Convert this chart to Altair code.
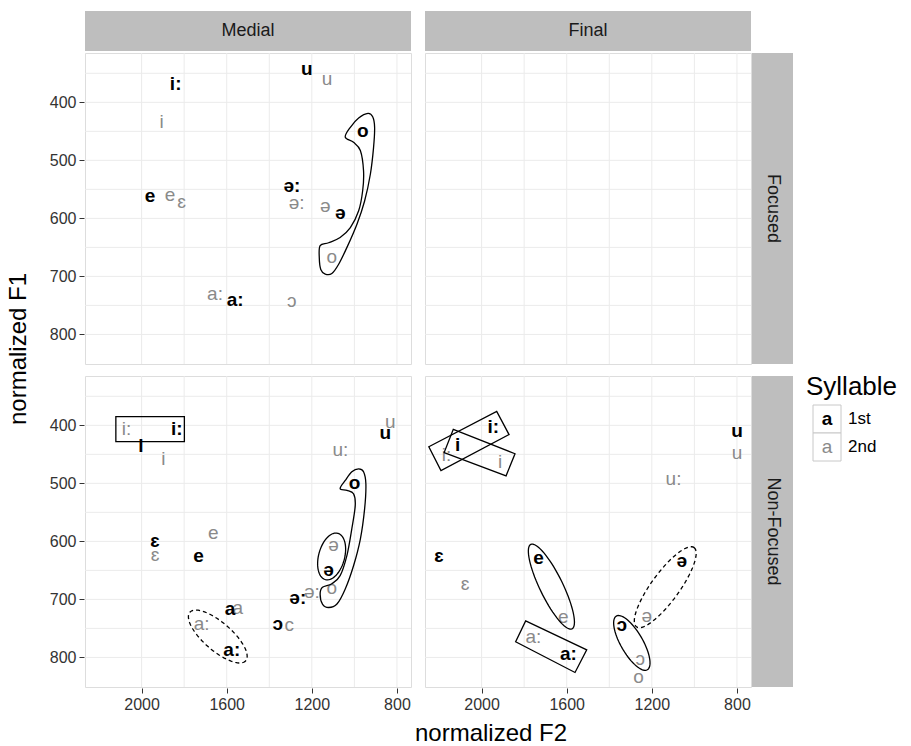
import altair as alt
import numpy as np
import pandas as pd

FONT = "Liberation Sans"
POSITIONS = ["Medial", "Final"]
FOCI = ["Focused", "Non-Focused"]

# ---------------- vowel tokens ----------------
# Medial / Focused
mf_vowel = ["i:", "u", "o", "ə:", "ə", "e", "a:",
            "i", "u", "ə:", "ə", "o", "e", "ɛ", "a:", "ɔ"]
mf_syll = ["1st"] * 7 + ["2nd"] * 9
mf_f2 = [1840, 1224, 961, 1294, 1066, 1960, 1560,
         1906, 1129, 1271, 1137, 1106, 1866, 1812, 1655, 1294]
mf_f1 = [368, 342, 449, 544, 590, 561, 740,
         434, 360, 573, 578, 666, 559, 571, 731, 742]

# Medial / Non-Focused
mn_vowel = ["i:", "i", "u", "o", "ɛ", "e", "ə", "ə:", "a", "ɔ", "a:",
            "i:", "i", "u", "u:", "ɛ", "e", "ə", "o", "ə:", "a", "c", "a:"]
mn_syll = ["1st"] * 11 + ["2nd"] * 12
mn_f2 = [1835, 2003, 855, 999, 1937, 1733, 1121, 1266, 1584, 1360, 1576,
         2071, 1898, 831, 1066, 1937, 1663, 1098, 1106, 1200, 1548, 1306, 1718]
mn_f1 = [406, 436, 414, 500, 599, 625, 650, 698, 717, 742, 788,
         406, 458, 394, 443, 624, 585, 606, 681, 688, 714, 745, 742]

# Final / Non-Focused
fn_vowel = ["i:", "i", "u", "ɛ", "e", "a:", "ə", "ɔ",
            "i:", "i", "u", "u:", "ɛ", "e", "a:", "ə", "ɔ", "o"]
fn_syll = ["1st"] * 8 + ["2nd"] * 10
fn_f2 = [1945, 2113, 800, 2200, 1733, 1592, 1059, 1341,
         2165, 1913, 800, 1098, 2078, 1616, 1757, 1224, 1255, 1263]
fn_f1 = [403, 434, 410, 626, 629, 794, 633, 745,
         452, 463, 447, 492, 673, 731, 765, 728, 803, 834]

# ---------------- annotation outlines (data units) ----------------
tl_banana_f2 = [1043, 1019, 980, 936, 914, 905, 910, 925, 952, 988, 1035, 1074, 1106,
                1137, 1158, 1165, 1161, 1121, 1067, 1019, 980, 961, 957, 972, 1004]
tl_banana_f1 = [460, 443, 427, 419, 425, 443, 478, 524, 570, 610, 650, 679, 695,
                696, 688, 668, 647, 642, 633, 616, 587, 552, 518, 483, 469]
bl_banana_f2 = [1067, 1043, 1012, 980, 957, 946, 952, 972, 1004, 1043, 1082, 1121,
                1150, 1161, 1150, 1106, 1067, 1035, 1012, 996, 1004, 1035]
bl_banana_f1 = [509, 495, 480, 475, 480, 501, 544, 596, 642, 682, 708, 714,
                708, 691, 679, 673, 659, 624, 578, 538, 518, 512]
bl_rect_f2 = [2121, 1799, 1799, 2121]
bl_rect_f1 = [385, 385, 428, 428]
br_rect1_f2 = [2248, 1929, 1871, 2191]
br_rect1_f1 = [437, 376, 416, 478]
br_rect2_f2 = [2133, 1843, 1885, 2176]
br_rect2_f1 = [407, 449, 487, 447]
br_rect3_f2 = [1793, 1506, 1561, 1840]
br_rect3_f1 = [737, 787, 826, 773]

# ellipses: position, focus, centre F2, centre F1, semi-axes (px), angle (deg), dashed
ellipses = [
    ("Medial", "Non-Focused", 1107, 626, 24, 13, -75, False),
    ("Medial", "Non-Focused", 1642, 764, 37, 14, 41, True),
    ("Final", "Non-Focused", 1672, 678, 47, 11.5, 64, False),
    ("Final", "Non-Focused", 1294, 775, 31, 11, 60, False),
    ("Final", "Non-Focused", 1137, 679, 49, 14, -54, True),
]

GRID_F2 = [800, 1000, 1200, 1400, 1600, 1800, 2000]
GRID_F1 = [350, 400, 450, 500, 550, 600, 650, 700, 750, 800]
X_TICKS = [800, 1200, 1600, 2000]
Y_TICKS = [400, 500, 600, 700, 800]
X_DOM = [734, 2266]
Y_DOM = [315, 851]
LEGEND_SYLL = ["1st", "2nd"]

W, H = 326, 311
GRAY = "#8a8a8a"
STRIP = "#bebebe"
GRIDC = "#ebebeb"
F2_PER_PX = (X_DOM[1] - X_DOM[0]) / W
F1_PER_PX = (Y_DOM[1] - Y_DOM[0]) / H

rows = []
def add(**kw):
    rows.append(kw)

for pos, foc, vs, ss, xs, ys in [
    ("Medial", "Focused", mf_vowel, mf_syll, mf_f2, mf_f1),
    ("Medial", "Non-Focused", mn_vowel, mn_syll, mn_f2, mn_f1),
    ("Final", "Non-Focused", fn_vowel, fn_syll, fn_f2, fn_f1),
]:
    for v, s, a, b in zip(vs, ss, xs, ys):
        add(kind="vowel", position=pos, focus=foc, label=v, syllable=s, f2=a, f1=b)

for pos in POSITIONS:
    for foc in FOCI:
        for g in GRID_F2:
            add(kind="gx", position=pos, focus=foc, f2=g)
        for g in GRID_F1:
            add(kind="gy", position=pos, focus=foc, f1=g)

sid = 0
def add_outline(kind, pos, foc, f2s, f1s):
    global sid
    sid += 1
    for i, (a, b) in enumerate(zip(f2s, f1s)):
        add(kind=kind, position=pos, focus=foc, sid=sid, idx=i, f2=a, f1=b)

add_outline("smooth", "Medial", "Focused", tl_banana_f2, tl_banana_f1)
add_outline("smooth", "Medial", "Non-Focused", bl_banana_f2, bl_banana_f1)
add_outline("poly", "Medial", "Non-Focused", bl_rect_f2, bl_rect_f1)
add_outline("poly", "Final", "Non-Focused", br_rect1_f2, br_rect1_f1)
add_outline("poly", "Final", "Non-Focused", br_rect2_f2, br_rect2_f1)
add_outline("poly", "Final", "Non-Focused", br_rect3_f2, br_rect3_f1)

for pos, foc, cx, cy, a, b, ang, dashed in ellipses:
    th = np.radians(ang)
    t = np.linspace(0, 2 * np.pi, 72, endpoint=False)
    dx = a * np.cos(t) * np.cos(th) - b * np.sin(t) * np.sin(th)
    dy = a * np.cos(t) * np.sin(th) + b * np.sin(t) * np.cos(th)
    add_outline("dash" if dashed else "poly", pos, foc,
                list(cx - dx * F2_PER_PX), list(cy + dy * F1_PER_PX))

for pos in POSITIONS:
    add(kind="strip_top", position=pos, focus="Focused", label=pos)
for foc in FOCI:
    add(kind="strip_right", position="Final", focus=foc, label=foc)
add(kind="legend_title", position="Final", focus="Non-Focused", label="Syllable")
for s in LEGEND_SYLL:
    add(kind="legend", position="Final", focus="Non-Focused", label=s, syllable=s)

df = pd.DataFrame(rows)

xscale = alt.Scale(domain=X_DOM, reverse=True, nice=False, zero=False)
yscale = alt.Scale(domain=Y_DOM, reverse=True, nice=False, zero=False)
axis_common = dict(grid=False, domain=False, tickSize=5, tickColor="#333333",
                   labelFontSize=16, labelFont=FONT, labelColor="#333333",
                   labelPadding=3, title=None, labelFlush=False, format="d")
xenc = alt.X("f2:Q", scale=xscale, axis=alt.Axis(values=X_TICKS, **axis_common))
yenc = alt.Y("f1:Q", scale=yscale, axis=alt.Axis(values=Y_TICKS, **axis_common))

def f(expr):
    return alt.Chart().transform_filter(expr)

layers = [
    f("datum.kind == 'gx'").mark_rule(color=GRIDC, strokeWidth=1).encode(x=xenc),
    f("datum.kind == 'gy'").mark_rule(color=GRIDC, strokeWidth=1).encode(y=yenc),
    f("datum.kind == 'vowel' && datum.syllable == '2nd'").mark_text(
        font=FONT, fontSize=19, color=GRAY, baseline="middle").encode(
        x=xenc, y=yenc, text="label:N"),
    f("datum.kind == 'vowel' && datum.syllable == '1st'").mark_text(
        font=FONT, fontSize=19, color="black", fontWeight="bold", baseline="middle").encode(
        x=xenc, y=yenc, text="label:N"),
    f("datum.kind == 'smooth'").mark_line(
        interpolate="cardinal-closed", color="black", strokeWidth=1.3).encode(
        x=xenc, y=yenc, detail="sid:N", order=alt.Order("idx:Q")),
    f("datum.kind == 'poly'").mark_line(
        interpolate="linear-closed", color="black", strokeWidth=1.3).encode(
        x=xenc, y=yenc, detail="sid:N", order=alt.Order("idx:Q")),
    f("datum.kind == 'dash'").mark_line(
        interpolate="linear-closed", color="black", strokeWidth=1.3, strokeDash=[4, 3]).encode(
        x=xenc, y=yenc, detail="sid:N", order=alt.Order("idx:Q")),
    f("datum.kind == 'strip_top'").mark_rect(color=STRIP).encode(
        x=alt.value(0), x2=alt.value(W), y=alt.value(-42), y2=alt.value(-2)),
    f("datum.kind == 'strip_top'").mark_text(
        font=FONT, fontSize=18, color="#1a1a1a", baseline="middle").encode(
        x=alt.value(W / 2), y=alt.value(-22), text="label:N"),
    f("datum.kind == 'strip_right'").mark_rect(color=STRIP).encode(
        x=alt.value(W + 1), x2=alt.value(W + 42), y=alt.value(0), y2=alt.value(H)),
    f("datum.kind == 'strip_right'").mark_text(
        font=FONT, fontSize=18, color="#1a1a1a", baseline="middle", angle=90).encode(
        x=alt.value(W + 21.5), y=alt.value(H / 2), text="label:N"),
    f("datum.kind == 'legend_title'").mark_text(
        font=FONT, fontSize=26, color="black", align="left", baseline="top").encode(
        x=alt.value(381), y=alt.value(-2), text="label:N"),
]
for i, s in enumerate(LEGEND_SYLL):
    y0 = 29 + 28 * i
    sel = f"datum.kind == 'legend' && datum.syllable == '{s}'"
    layers.append(f(sel).mark_rect(fill="white", stroke="#c8c8c8", strokeWidth=1).encode(
        x=alt.value(388), x2=alt.value(416), y=alt.value(y0), y2=alt.value(y0 + 28)))
    layers.append(f(sel).mark_text(
        font=FONT, fontSize=19, color="black" if s == "1st" else GRAY,
        fontWeight="bold" if s == "1st" else "normal", baseline="middle").encode(
        x=alt.value(402), y=alt.value(y0 + 14), text=alt.value("a")))
    layers.append(f(sel).mark_text(
        font=FONT, fontSize=17, color="black", align="left", baseline="middle").encode(
        x=alt.value(423), y=alt.value(y0 + 14), text="label:N"))

hdr = dict(labels=False, titleFontSize=24, titleFont=FONT, titleFontWeight="normal",
           titleColor="black")
chart = alt.layer(*layers, data=df).properties(width=W, height=H).facet(
    row=alt.Row("focus:N", sort=FOCI,
                header=alt.Header(title="normalized F1", titleOrient="left",
                                  titlePadding=8, **hdr)),
    column=alt.Column("position:N", sort=POSITIONS,
                      header=alt.Header(title="normalized F2", titleOrient="bottom",
                                        titlePadding=0, **hdr)),
    spacing={"row": 8, "column": 12},
    align="each",
).properties(
    padding={"left": 6, "top": 10, "right": 5, "bottom": 2}
).configure_view(stroke="#8a8a8a", strokeWidth=1).configure(font=FONT)

chart.save("out.html", embed_options={"renderer": "svg", "actions": False})
